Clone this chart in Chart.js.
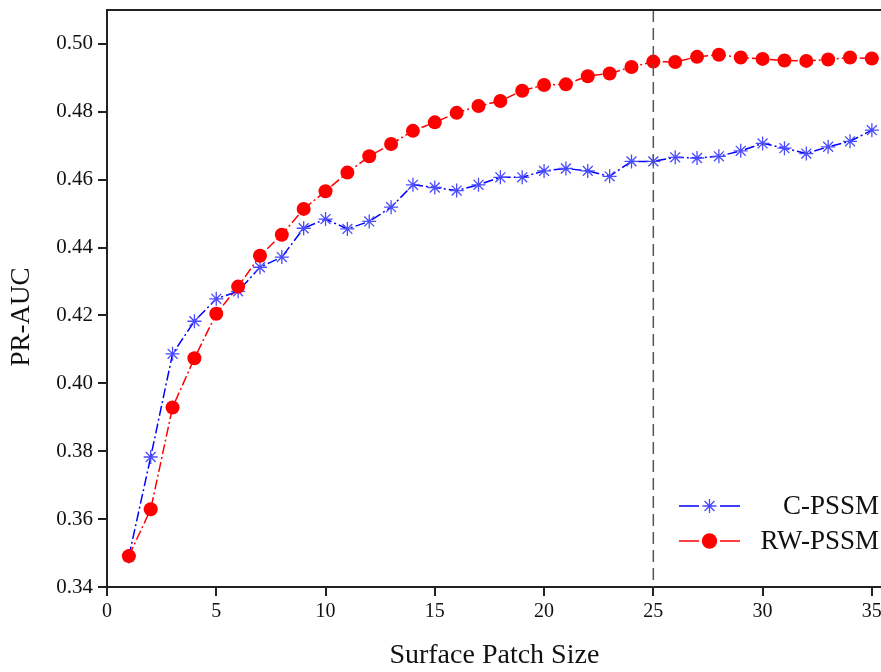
<!DOCTYPE html>
<html>
<head>
<meta charset="utf-8">
<script src="https://cdn.jsdelivr.net/npm/chart.js@4.4.1/dist/chart.umd.min.js"></script>
<style>
  html, body { margin: 0; padding: 0; background: #fff; overflow: hidden; }
  /* the figure is cut at the right edge, so the canvas is a bit wider than the page */
  #wrap { width: 881px; height: 672px; overflow: hidden; }
</style>
</head>
<body>
<div id="wrap"><canvas id="chart" width="890" height="672"></canvas></div>
<script>
// values
const patchSizes = [1, 2, 3, 4, 5, 6, 7, 8, 9, 10, 11, 12, 13, 14, 15, 16, 17, 18,
    19, 20, 21, 22, 23, 24, 25, 26, 27, 28, 29, 30, 31, 32, 33, 34, 35];
const cPssm = [0.349, 0.3783, 0.4087, 0.4183, 0.4249, 0.4271, 0.4342, 0.4372, 0.4457,
    0.4484, 0.4455, 0.4477, 0.4519, 0.4585, 0.4577, 0.4568, 0.4585, 0.4607, 0.4607,
    0.4626, 0.4633, 0.4626, 0.4610, 0.4654, 0.4654, 0.4666, 0.4664, 0.4669, 0.4685,
    0.4707, 0.4693, 0.4677, 0.4697, 0.4713, 0.4746];
const rwPssm = [0.3491, 0.3629, 0.3929, 0.4074, 0.4205, 0.4285, 0.4376, 0.4438, 0.4514,
    0.4566, 0.4621, 0.4669, 0.4705, 0.4744, 0.4769, 0.4797, 0.4817, 0.4832, 0.4862,
    0.4879, 0.4881, 0.4905, 0.4913, 0.4932, 0.4948, 0.4947, 0.4962, 0.4968, 0.4960,
    0.4956, 0.4951, 0.4950, 0.4954, 0.4960, 0.4957];
const xTicks = [0, 5, 10, 15, 20, 25, 30, 35];
const yTicks = [0.34, 0.36, 0.38, 0.40, 0.42, 0.44, 0.46, 0.48, 0.50];
const markedSize = 25;

const FONT = "'Liberation Serif', 'DejaVu Serif', serif";
const AXIS = "#222";

const toPoints = (vals) => vals.map((v, i) => ({ x: patchSizes[i], y: v }));

// dashed marker line, top frame, y title and the legend box
const extras = {
    id: "extras",
    afterDatasetsDraw(chart) {
        const { ctx, chartArea, scales } = chart;
        const px = scales.x.getPixelForValue(markedSize);

        ctx.save();
        ctx.strokeStyle = "#555";
        ctx.lineWidth = 1.5;
        ctx.setLineDash([12, 6]);
        ctx.beginPath();
        ctx.moveTo(px, chartArea.top);
        ctx.lineTo(px, chartArea.bottom);
        ctx.stroke();
        ctx.restore();
    },
    afterDraw(chart) {
        const { ctx, chartArea } = chart;
        ctx.save();

        // top frame line
        ctx.strokeStyle = AXIS;
        ctx.lineWidth = 2;
        ctx.beginPath();
        ctx.moveTo(chartArea.left - 1, chartArea.top);
        ctx.lineTo(chartArea.right, chartArea.top);
        ctx.stroke();

        // y axis title
        ctx.fillStyle = "#111";
        ctx.font = "27px " + FONT;
        ctx.textAlign = "center";
        ctx.textBaseline = "middle";
        ctx.translate(22, 317);
        ctx.rotate(-Math.PI / 2);
        ctx.fillText("PR-AUC", 0, 0);
        ctx.restore();

        // legend
        const items = [
            { label: "C-PSSM", color: "#0000ff", mark: "#4a4aff", style: "star", y: 506 },
            { label: "RW-PSSM", color: "#ff0000", mark: "#ff0000", style: "circle", y: 541 },
        ];
        ctx.save();
        items.forEach((it) => {
            ctx.strokeStyle = it.color;
            ctx.lineWidth = 1.5;
            ctx.beginPath();
            ctx.moveTo(679, it.y);
            ctx.lineTo(699, it.y);
            ctx.moveTo(720, it.y);
            ctx.lineTo(740, it.y);
            ctx.stroke();

            ctx.strokeStyle = it.mark;
            ctx.fillStyle = it.mark;
            ctx.lineWidth = 1.3;
            Chart.helpers.drawPoint(ctx, {
                pointStyle: it.style, radius: 7, rotation: 0, borderWidth: 1.3,
            }, 709.5, it.y);

            ctx.fillStyle = "#111";
            ctx.font = "27px " + FONT;
            ctx.textAlign = "right";
            ctx.textBaseline = "middle";
            ctx.fillText(it.label, 879, it.y + 1);
        });
        ctx.restore();
    },
};

new Chart(document.getElementById("chart"), {
    type: "line",
    data: {
        datasets: [
            {
                label: "RW-PSSM",
                data: toPoints(rwPssm),
                borderColor: "#ff0000",
                backgroundColor: "#ff0000",
                borderWidth: 1.5,
                borderDash: [10, 3, 2, 3],
                pointStyle: "circle",
                pointRadius: 7,
                pointBorderWidth: 0,
                pointBackgroundColor: "#ff0000",
                order: 1,
            },
            {
                label: "C-PSSM",
                data: toPoints(cPssm),
                borderColor: "#0000ff",
                backgroundColor: "#0000ff",
                borderWidth: 1.5,
                borderDash: [10, 3, 2, 3],
                pointStyle: "star",
                pointRadius: 7,
                pointBorderWidth: 1.3,
                pointBorderColor: "#4a4aff",
                order: 2,
            },
        ],
    },
    options: {
        responsive: false,
        animation: false,
        layout: { padding: { top: 10, right: 0, left: 0, bottom: 0 } },
        plugins: {
            legend: { display: false },
            tooltip: { enabled: false },
        },
        scales: {
            x: {
                type: "linear",
                min: 0,
                max: 35.45,
                afterBuildTicks: (axis) => { axis.ticks = xTicks.map((v) => ({ value: v })); },
                afterFit: (axis) => { axis.height = 85; },
                ticks: { color: "#111", font: { family: FONT, size: 20 }, padding: 4, maxRotation: 0 },
                grid: { drawOnChartArea: false, tickLength: 9, color: AXIS, lineWidth: 2 },
                border: { color: AXIS, width: 2 },
                title: {
                    display: true,
                    text: "Surface Patch Size",
                    color: "#111",
                    font: { family: FONT, size: 28 },
                    padding: { top: 12, bottom: 0 },
                },
            },
            y: {
                min: 0.34,
                max: 0.51,
                afterBuildTicks: (axis) => { axis.ticks = yTicks.map((v) => ({ value: v })); },
                afterFit: (axis) => {
                    axis.width = 107;
                    axis.paddingTop = 0;
                    axis.paddingBottom = 0;
                },
                ticks: {
                    color: "#111",
                    font: { family: FONT, size: 21 },
                    padding: 5,
                    callback: (v) => v.toFixed(2),
                },
                grid: { drawOnChartArea: false, tickLength: 9, color: AXIS, lineWidth: 2 },
                border: { color: AXIS, width: 2 },
            },
        },
    },
    plugins: [extras],
});
</script>
</body>
</html>
